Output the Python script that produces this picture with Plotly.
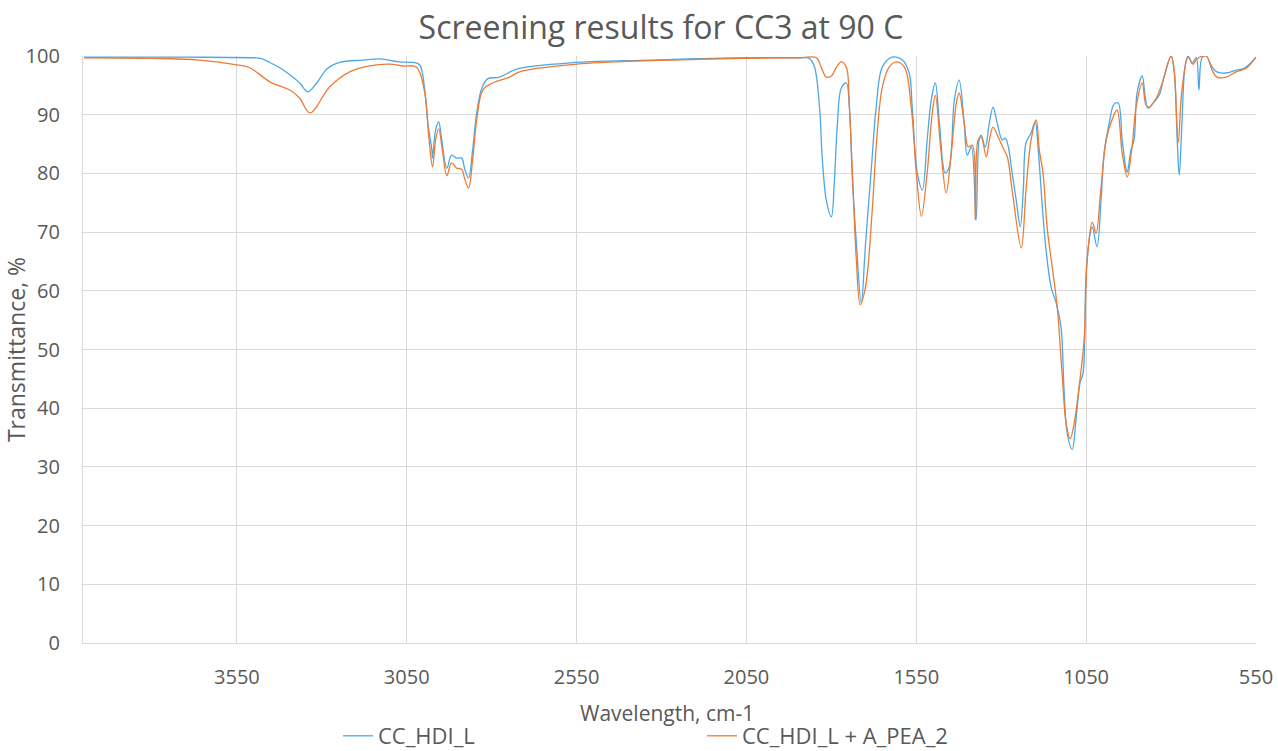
import plotly.graph_objects as go

# CC_HDI_L  (wavenumber, transmittance %)
wn_a = [4000, 3700, 3500, 3480, 3453, 3424, 3394, 3365, 3341, 3315, 3285, 3247, 3179, 3129,
        3071, 3032, 3012, 2997, 2988, 2976, 2974, 2965, 2956, 2947, 2932, 2918, 2903, 2888,
        2880, 2868, 2856, 2844, 2829, 2812, 2777, 2724, 2550, 2335, 2050, 1894, 1865, 1850,
        1835, 1827, 1815, 1800, 1791, 1782, 1771, 1756, 1747, 1738, 1727, 1712, 1700, 1682,
        1668, 1650, 1621, 1591, 1571, 1562, 1547, 1532, 1518, 1506, 1494, 1482, 1465, 1453,
        1438, 1424, 1409, 1400, 1388, 1374, 1365, 1359, 1347, 1335, 1324, 1312, 1297, 1288,
        1279, 1268, 1256, 1244, 1235, 1227, 1212, 1200, 1191, 1179, 1168, 1153, 1138, 1124,
        1115, 1106, 1091, 1080, 1068, 1059, 1050, 1038, 1032, 1018, 1006, 997, 982, 968,
        956, 944, 932, 929, 918, 909, 900, 885, 876, 868, 850, 835, 821, 800, 791, 782,
        776, 768, 759, 750, 738, 726, 718, 709, 697, 679, 665, 638, 609, 585, 550]
t_a = [99.8, 99.8, 99.7, 99.6, 98.9, 98.0, 96.8, 95.4, 93.9, 95.4, 97.8, 98.9, 99.3, 99.5,
       99.0, 98.9, 98.5, 94.2, 88.6, 84.0, 82.6, 87.4, 88.8, 85.7, 80.9, 83.1, 82.6, 82.6,
       80.9, 79.2, 84.0, 90.3, 94.5, 96.1, 96.4, 97.8, 98.9, 99.3, 99.7, 99.7, 99.6, 98.2,
       91.4, 82.8, 75.5, 72.6, 78.9, 88.6, 94.5, 95.4, 91.3, 78.9, 68.7, 57.9, 67.5, 81.1,
       91.3, 98.1, 99.8, 99.3, 97.1, 91.3, 80.1, 77.2, 85.7, 92.5, 95.4, 88.6, 80.1, 81.1,
       92.5, 95.9, 88.6, 83.1, 84.5, 72.1, 85.7, 86.5, 84.5, 88.6, 91.3, 88.6, 85.7, 86.0,
       84.5, 80.1, 75.5, 70.9, 77.2, 85.2, 86.9, 88.8, 84.0, 74.3, 66.9, 60.6, 57.9, 53.8,
       43.1, 35.8, 33.0, 38.0, 44.3, 46.0, 63.0, 69.8, 70.9, 67.5, 75.5, 83.5, 88.6, 91.8,
       92.0, 85.7, 80.6, 80.2, 84.0, 85.7, 93.7, 96.6, 93.0, 91.1, 92.2, 93.3, 96.4, 100.0, 97.6, 85.7,
       79.7, 88.6, 98.1, 100.0, 98.8, 99.7, 94.2, 99.7, 100.0, 98.1, 97.3, 97.1, 97.6, 97.9, 99.8]

# CC_HDI_L + A_PEA_2
wn_b = [4000, 3800, 3659, 3550, 3512, 3453, 3394, 3365, 3335, 3276, 3218, 3159, 3100, 3062,
        3021, 2997, 2985, 2974, 2965, 2956, 2944, 2932, 2918, 2903, 2888, 2880, 2868, 2856,
        2844, 2826, 2797, 2747, 2718, 2550, 2335, 2050, 1894, 1844, 1830, 1815, 1800, 1785,
        1771, 1756, 1747, 1738, 1727, 1715, 1703, 1694, 1679, 1665, 1650, 1630, 1609, 1585,
        1565, 1550, 1535, 1518, 1503, 1494, 1477, 1462, 1447, 1432, 1424, 1409, 1397, 1385,
        1376, 1368, 1359, 1344, 1335, 1324, 1309, 1294, 1282, 1268, 1241, 1227, 1212, 1197,
        1188, 1177, 1165, 1150, 1135, 1121, 1109, 1097, 1085, 1071, 1056, 1047, 1032, 1021,
        1006, 991, 974, 959, 944, 929, 915, 903, 885, 874, 865, 844, 826, 800, 791, 779,
        768, 750, 735, 724, 697, 679, 665, 638, 609, 579, 550]
t_b = [99.7, 99.6, 99.3, 98.5, 98.0, 95.6, 94.2, 92.8, 90.3, 94.8, 97.3, 98.3, 98.6, 98.3,
       98.1, 93.7, 86.2, 81.1, 85.7, 87.6, 83.5, 79.6, 81.8, 80.9, 80.7, 79.2, 77.5, 82.3,
       89.1, 94.2, 95.4, 96.4, 97.3, 98.6, 99.2, 99.6, 99.7, 99.7, 98.1, 96.4, 96.6, 98.1,
       99.0, 98.1, 91.3, 80.1, 65.8, 57.6, 59.6, 63.0, 74.3, 86.9, 94.7, 98.1, 99.0, 98.1,
       91.3, 80.1, 72.7, 80.1, 90.3, 93.3, 83.5, 76.7, 83.5, 92.0, 93.7, 88.6, 84.5, 84.8,
       72.1, 85.7, 86.2, 82.8, 85.7, 87.9, 86.2, 84.3, 82.8, 77.2, 67.3, 77.2, 85.7, 89.1,
       84.0, 80.1, 70.9, 64.1, 57.2, 46.0, 37.5, 34.8, 37.5, 43.6, 51.6, 65.2, 71.7, 69.8,
       77.7, 85.7, 89.1, 90.8, 83.5, 79.4, 84.5, 91.3, 95.4, 91.7, 91.3, 92.8, 95.4, 100.0, 97.6, 85.3,
       94.2, 99.8, 98.6, 99.5, 100.0, 97.6, 96.4, 96.4, 97.3, 97.9, 99.8]

x_ticks = [3550, 3050, 2550, 2050, 1550, 1050, 550]
y_ticks = [0, 10, 20, 30, 40, 50, 60, 70, 80, 90, 100]

FONT = "Open Sans"
TXT = "#595959"
GRID = "#D9D9D9"

fig = go.Figure()
fig.add_trace(go.Scatter(x=wn_a, y=t_a, mode="lines", name="CC_HDI_L",
                         line=dict(color="#4BA8E8", width=1.3), line_shape="spline"))
fig.add_trace(go.Scatter(x=wn_b, y=t_b, mode="lines", name="CC_HDI_L + A_PEA_2",
                         line=dict(color="#EE7B34", width=1.3), line_shape="spline"))

fig.update_layout(
    width=1278, height=751,
    paper_bgcolor="white", plot_bgcolor="white",
    margin=dict(l=83, r=22, t=56, b=108, autoexpand=False),
    font=dict(family=FONT, color=TXT),
    title=dict(text="Screening results for CC3 at 90 C", x=661 / 1278, xref="container",
               xanchor="center", y=1 - 28 / 751, yref="container", yanchor="middle",
               font=dict(size=32, color=TXT, family=FONT)),
    showlegend=True,
    legend=dict(orientation="h", xref="container", yref="container",
                x=338 / 1278, xanchor="left", y=(751 - 736) / 751, yanchor="middle",
                font=dict(size=22, color=TXT, family=FONT),
                entrywidth=319, entrywidthmode="pixels", itemwidth=30,
                bgcolor="rgba(0,0,0,0)"),
    xaxis=dict(range=[4003, 550], tickvals=x_ticks, ticktext=[str(v) for v in x_ticks],
               showgrid=True, gridcolor=GRID, gridwidth=1.3, automargin=False,
               showline=True, linecolor=GRID, linewidth=1.3, zeroline=False,
               ticks="", ticklabelstandoff=16,
               tickfont=dict(size=20, color=TXT)),
    yaxis=dict(range=[0, 100], tickvals=y_ticks, showgrid=True, gridcolor=GRID, gridwidth=1.3,
               showline=True, linecolor=GRID, linewidth=1.3, zeroline=False, automargin=False,
               ticks="", ticklabelstandoff=18,
               tickfont=dict(size=20, color=TXT),
               title=dict(text="Transmittance, %", font=dict(size=23, color=TXT), standoff=5)),
    annotations=[dict(text="Wavelength, cm-1", xref="paper", yref="paper",
                      x=(666.5 - 83) / 1173, y=(643 - 713) / 587,
                      xanchor="center", yanchor="middle", showarrow=False,
                      font=dict(size=21, color=TXT, family=FONT))],
)

fig.write_html("out.html")
